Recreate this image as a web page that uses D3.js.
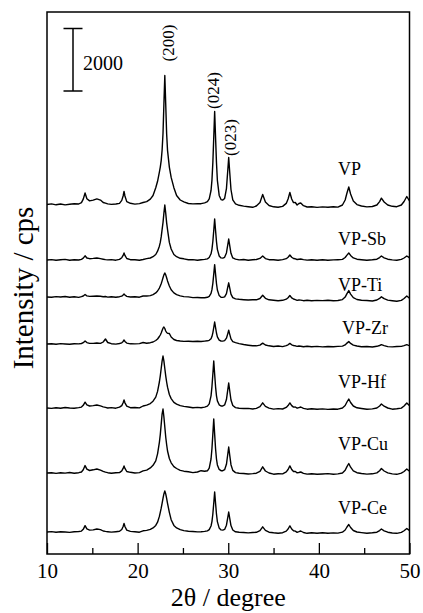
<!DOCTYPE html>
<html><head><meta charset="utf-8">
<script src="https://cdn.jsdelivr.net/npm/d3@7"></script>
<style>body{margin:0;background:#fff}svg{display:block}
svg text{font-family:"Liberation Serif","Times New Roman","DejaVu Serif",serif;}</style>
</head><body>
<script>
const twoTheta = [10,10.5,11,11.5,12,12.5,13,13.5,13.8,14.0,
14.2,14.4,14.7,15.1,15.5,15.9,16.2,16.45,16.7,17.1,
17.6,18.0,18.25,18.4,18.5,18.6,18.8,19.2,19.7,20.2,
20.6,21.0,21.4,21.7,22.0,22.2,22.4,22.5,22.6,22.7,
22.8,22.9,23.0,23.1,23.2,23.3,23.5,23.7,24.0,24.3,
24.7,25.1,25.6,26.1,26.6,27.0,27.4,27.7,27.9,28.1,
28.2,28.3,28.4,28.5,28.6,28.7,28.8,29.0,29.2,29.4,
29.6,29.8,29.95,30.05,30.15,30.3,30.5,30.8,31.2,31.7,
32.2,32.7,33.1,33.5,33.8,34.1,34.5,35.0,35.5,36.0,
36.4,36.6,36.8,37.0,37.2,37.4,37.6,37.8,38.0,38.3,
38.7,39.2,39.8,40.4,41.0,41.6,42.1,42.6,42.9,43.1,
43.3,43.5,43.8,44.2,44.7,45.3,45.9,46.4,46.7,46.9,
47.2,47.6,48.1,48.6,49.1,49.4,49.7,49.9,50];

const seriesNames = ["VP","VP-Sb","VP-Ti","VP-Zr","VP-Hf","VP-Cu","VP-Ce"];
// stacking offsets (cps)
const offsets = [11184, 9408, 8224, 6720, 4672, 2592, 704];

const vp = [0,20,-10,15,-13,10,26,16,61,173,
368,186,115,138,179,141,64,42,19,3,
16,38,131,272,416,272,93,38,13,29,
64,90,173,288,538,742,1034,1197,1405,1734,
2272,3219,4128,3219,2272,1734,1197,867,538,288,
144,83,32,19,29,26,54,90,179,448,
774,1341,2144,2976,2144,1341,774,291,157,141,
195,509,1104,1504,1082,480,150,19,-26,-51,
-70,-90,-48,61,320,80,-32,-74,-86,-61,
35,176,384,176,61,64,-16,32,48,-38,
-80,-70,-93,-77,-90,-70,-83,-16,144,368,
560,336,112,-3,-48,-77,-64,-16,93,202,
80,-16,-58,-70,-16,96,256,160,112];

const vpSb = [0,13,-10,6,19,-6,10,0,22,58,
134,64,42,51,64,42,26,13,3,13,
-6,19,74,147,224,147,48,10,6,-6,
16,42,64,106,176,282,442,563,739,970,
1197,1498,1760,1498,1197,970,563,352,176,106,
54,38,10,13,-6,10,19,38,80,198,
342,592,944,1312,944,592,342,128,67,61,
86,227,493,672,483,214,67,29,3,16,
-6,10,16,51,128,45,10,6,-10,13,
42,90,160,88,48,38,16,26,32,13,
-3,10,-6,6,-10,3,10,19,80,157,
224,147,67,26,10,-6,6,26,77,128,
70,26,3,-6,19,64,128,90,70];

const vpTi = [0,-10,13,0,16,-6,6,-13,10,32,
80,38,19,26,32,22,6,16,-3,10,
-10,10,29,64,96,64,22,0,10,-6,
32,32,45,77,131,192,285,352,422,515,
614,707,768,707,614,515,352,230,131,77,
38,13,3,-19,-16,-26,-22,-10,19,115,
234,438,733,1034,730,432,224,45,-6,-13,
3,109,320,454,307,93,-22,-61,-74,-86,
-96,-90,-90,-48,54,-42,-90,-102,-118,-106,
-70,-22,48,-26,-64,-86,-109,-96,-99,-118,
-106,-122,-109,-115,-102,-122,-112,-83,-3,109,
205,93,-19,-80,-102,-112,-128,-96,-45,6,
-54,-99,-118,-134,-106,-48,32,-16,-42];

const vpZr = [0,10,-6,13,0,-10,10,3,16,42,
96,45,19,19,32,19,64,160,48,10,
-3,16,38,83,128,83,29,6,3,13,
48,26,42,64,112,160,240,288,352,432,
506,544,496,416,368,346,336,224,144,112,
96,83,90,80,86,80,93,102,118,170,
237,358,528,704,525,352,227,122,96,93,
106,186,333,442,326,163,74,42,13,-16,
-38,-58,-58,-35,29,-32,-58,-80,-64,-83,
-51,-26,19,-26,-48,-58,-77,-64,-70,-86,
-74,-90,-77,-93,-80,-86,-77,-67,-29,29,
77,19,-35,-64,-90,-80,-96,-74,-48,-22,
-51,-83,-93,-80,-77,-54,-22,-42,-51];

const vpHf = [0,-13,10,-6,16,0,-10,13,29,86,
186,99,64,77,96,67,38,19,0,13,
-6,26,77,166,256,166,58,10,16,3,
64,90,141,218,349,531,832,1030,1264,1498,
1664,1498,1264,1030,832,666,432,301,182,125,
74,51,32,6,19,10,29,61,134,390,
678,1082,1504,1082,678,390,227,102,64,64,
99,269,586,800,576,256,80,13,-6,-16,
-13,-32,-10,42,166,51,-6,-35,-19,-32,
19,77,163,77,29,32,-6,13,32,-13,
-38,-26,-42,-29,-45,-32,-38,0,80,192,
288,176,64,6,-16,-42,-29,0,64,128,
58,0,-38,-26,-3,64,160,102,74];

const vpCu = [0,10,-13,6,-3,16,-6,10,32,102,
237,122,80,102,128,90,51,26,10,-6,
10,13,67,146,224,146,48,22,0,13,
67,93,163,246,390,614,982,1229,1555,1888,
2048,1792,1472,1152,912,704,464,326,205,144,
83,58,38,13,32,74,54,70,157,448,
778,1245,1728,1245,778,448,259,115,74,74,
106,278,608,832,598,266,83,13,-6,-16,
-32,-19,-6,51,198,64,0,-38,-22,-29,
35,112,227,112,48,48,6,16,32,-10,
-35,-22,-42,-32,-19,-38,-29,0,86,205,
304,186,70,10,-16,-35,-26,3,74,144,
64,3,-29,-42,-6,48,128,80,58];

const vpCe = [0,13,-6,10,0,-13,6,16,29,86,
202,99,61,67,96,77,32,19,10,-3,
10,22,82,176,272,176,61,19,6,-6,
38,51,86,131,211,314,499,630,762,918,
1075,1219,1312,1219,1075,918,630,394,211,131,
74,45,26,16,3,6,19,38,77,192,
333,576,922,1280,922,576,333,125,67,61,
83,218,470,640,461,205,64,6,-10,-16,
-29,-16,-10,42,166,51,-6,-26,-38,-22,
29,96,195,96,38,29,-10,10,32,-16,
-42,-26,-38,-22,-42,-29,-35,-6,64,160,
240,144,48,0,-19,-38,-26,-6,45,96,
38,-6,-32,-42,-10,40,112,70,48];

const seriesValues = [vp, vpSb, vpTi, vpZr, vpHf, vpCu, vpCe];
const majorTicks = [10, 20, 30, 40, 50];
const minorTicks = [15, 25, 35, 45];
const peakLabels = ["(200)", "(024)", "(023)"];
const scaleBarValue = 2000;

(function draw() {
const W = 423, H = 613;
const mLeft = 47, mRight = 409.5, mTop = 12, mBottom = 554;
const FONT = '"Liberation Serif","Times New Roman","DejaVu Serif",serif';

const svg = d3.select("body").append("svg").attr("width", W).attr("height", H);
svg.append("rect").attr("width", W).attr("height", H).attr("fill", "#fff");

const x = d3.scaleLinear().domain([10, 50]).range([mLeft, mRight]);
const y = d3.scaleLinear().domain([0, (mBottom - mTop) * 32]).range([mBottom, mTop]);

seriesValues.forEach((vals, i) => {
  if (vals.length !== twoTheta.length) console.error("length mismatch", seriesNames[i], vals.length);
  const line = d3.line()
    .x((d, j) => x(twoTheta[j]))
    .y(d => y(offsets[i] + d));
  svg.append("path").datum(vals)
    .attr("d", line)
    .attr("fill", "none").attr("stroke", "#000")
    .attr("stroke-width", 1.4).attr("stroke-linejoin", "round");
});

svg.append("rect").attr("x", mLeft).attr("y", mTop)
  .attr("width", mRight - mLeft).attr("height", mBottom - mTop)
  .attr("fill", "none").attr("stroke", "#000").attr("stroke-width", 1.5);

const gx = svg.append("g").attr("transform", `translate(0,${mBottom})`)
  .call(d3.axisBottom(x).tickValues(majorTicks).tickSize(-11).tickPadding(9).tickFormat(d3.format("d")));
gx.attr("font-family", null).attr("font-size", null);
gx.select(".domain").remove();
gx.selectAll("line").attr("stroke", "#000").attr("stroke-width", 1.3);
gx.selectAll("text").style("font-family", FONT).style("font-size", "21px").attr("fill", "#000");

const gm = svg.append("g").attr("transform", `translate(0,${mBottom})`)
  .call(d3.axisBottom(x).tickValues(minorTicks).tickSize(-6).tickFormat(""));
gm.select(".domain").remove();
gm.selectAll("line").attr("stroke", "#000").attr("stroke-width", 1.3);

svg.append("text").attr("x", (mLeft + mRight) / 2).attr("y", 606)
  .attr("text-anchor", "middle").style("font-family", FONT).style("font-size", "26px")
  .text("2θ / degree");
svg.append("text").attr("transform", "translate(33,288) rotate(-90)")
  .attr("text-anchor", "middle").style("font-family", FONT).style("font-size", "29px")
  .text("Intensity / cps");

const labelPos = [[338,175],[338,245],[338,291],[342,334],[338,388],[338,450],[338,514]];
seriesNames.forEach((n, i) => {
  svg.append("text").attr("x", labelPos[i][0]).attr("y", labelPos[i][1])
    .style("font-family", FONT).style("font-size", "18px").text(n);
});

const peakPos = [[174,43],[219,90.5],[235.5,137.5]];
peakLabels.forEach((t, i) => {
  svg.append("text").attr("transform", `translate(${peakPos[i][0]},${peakPos[i][1]}) rotate(-90)`)
    .attr("text-anchor", "middle").style("font-family", FONT).style("font-size", "17px").text(t);
});

const barLen = y(0) - y(scaleBarValue);
const bx = 73, byBottom = 91, byTop = byBottom - barLen;
const sb = svg.append("g").attr("stroke", "#000").attr("stroke-width", 1.5);
sb.append("line").attr("x1", bx).attr("x2", bx).attr("y1", byTop).attr("y2", byBottom);
sb.append("line").attr("x1", bx - 9.5).attr("x2", bx + 9.5).attr("y1", byTop).attr("y2", byTop);
sb.append("line").attr("x1", bx - 9.5).attr("x2", bx + 9.5).attr("y1", byBottom).attr("y2", byBottom);
svg.append("text").attr("x", 83).attr("y", 70).style("font-family", FONT).style("font-size", "20px")
  .text(String(scaleBarValue));
})();
</script>
</body></html>
